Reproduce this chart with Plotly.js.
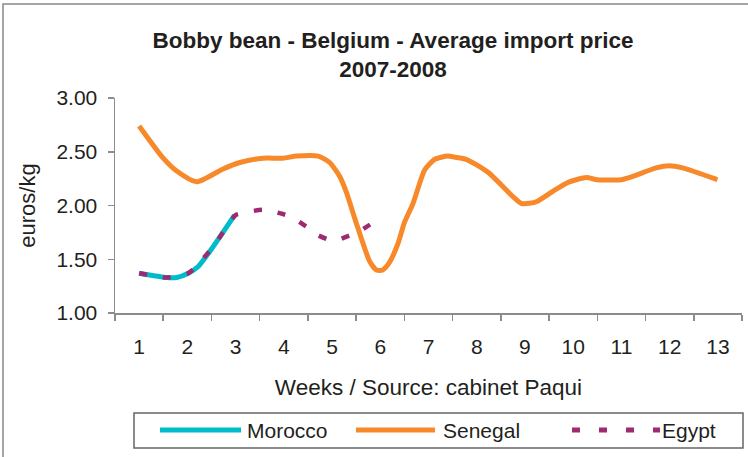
<!DOCTYPE html>
<html>
<head>
<meta charset="utf-8">
<script src="https://cdn.plot.ly/plotly-3.0.1.min.js"></script>
<style>
  html, body { margin: 0; padding: 0; background: #ffffff; }
  #chart { width: 748px; height: 457px; }
</style>
</head>
<body>
<div id="chart"></div>
<script>
// ---- Data ----
const weekLabels = ["1","2","3","4","5","6","7","8","9","10","11","12","13"];
const weekTicks = [1,2,3,4,5,6,7,8,9,10,11,12,13];

const moroccoWeeks  = [1.00, 1.57, 1.78, 2.02, 2.22, 2.54, 2.98];
const moroccoPrices = [1.37, 1.33, 1.33, 1.37, 1.43, 1.62, 1.91];

const senegalWeeks  = [1.00, 1.50, 1.78, 2.19, 2.74, 3.09, 3.57, 3.98, 4.26, 4.71, 4.95, 5.16, 5.30, 5.50,
                       5.78, 5.92, 6.05, 6.19, 6.37, 6.50, 6.68, 6.92, 7.13, 7.40, 7.54, 7.78, 7.99, 8.26,
                       8.78, 8.92, 9.09, 9.26, 9.64, 9.92, 10.27, 10.50, 10.99, 11.23, 11.72, 11.99, 12.27, 12.99];
const senegalPrices = [2.74, 2.44, 2.32, 2.22, 2.34, 2.40, 2.44, 2.44, 2.46, 2.46, 2.40, 2.27, 2.12, 1.84,
                       1.48, 1.40, 1.40, 1.47, 1.65, 1.84, 2.02, 2.33, 2.43, 2.46, 2.45, 2.43, 2.38, 2.30,
                       2.07, 2.02, 2.02, 2.04, 2.15, 2.22, 2.26, 2.24, 2.24, 2.27, 2.35, 2.37, 2.35, 2.24];

const egyptWeeks  = [1.00, 1.57, 2.02, 2.54, 3.00, 3.16, 3.57, 4.12, 4.54, 4.68, 5.02, 5.12, 5.57, 5.97];
const egyptPrices = [1.37, 1.33, 1.37, 1.62, 1.91, 1.93, 1.96, 1.90, 1.78, 1.73, 1.67, 1.68, 1.76, 1.88];

const seriesNames = ["Morocco", "Senegal", "Egypt"];
const seriesColors = ["#00BCCB", "#F7892A", "#9E2A72"];

// ---- Geometry helpers (pixel -> paper) ----
const W = 748, H = 457, ML = 115, MR = 6, MT = 98, MB = 144;
const PW = W - ML - MR, PH = H - MT - MB;
const px2x = x => (x - ML) / PW;
const px2y = y => (H - MB - y) / PH;

const textColor = "#231F20";
const axisColor = "#8C8C8C";
const font = "Liberation Sans, Arial, sans-serif";

const traces = [
  { x: moroccoWeeks, y: moroccoPrices, name: seriesNames[0], type: "scatter", mode: "lines",
    line: { color: seriesColors[0], width: 5, shape: "spline", smoothing: 0.6 } },
  { x: senegalWeeks, y: senegalPrices, name: seriesNames[1], type: "scatter", mode: "lines",
    line: { color: seriesColors[1], width: 5, shape: "spline", smoothing: 0.6 } },
  { x: egyptWeeks, y: egyptPrices, name: seriesNames[2], type: "scatter", mode: "lines",
    line: { color: seriesColors[2], width: 4.5, dash: "8px,16px", shape: "spline", smoothing: 0.6 } }
];

const boundaries = [];
for (let i = 0; i <= weekTicks.length; i++) boundaries.push(weekTicks[0] - 0.5 + i);

// custom legend (long sample lines like the original)
const legY = 430;
const shapes = [
  { type: "rect", xref: "paper", yref: "paper", x0: px2x(3), x1: px2x(770), y0: px2y(480), y1: px2y(4),
    line: { color: "#888888", width: 1.5 }, fillcolor: "rgba(0,0,0,0)", layer: "below" },
  { type: "rect", xref: "paper", yref: "paper", x0: px2x(134), x1: px2x(743), y0: px2y(448), y1: px2y(413),
    line: { color: "#666666", width: 1.5 }, fillcolor: "rgba(0,0,0,0)" },
  { type: "line", xref: "paper", yref: "paper", x0: px2x(160), x1: px2x(241), y0: px2y(legY), y1: px2y(legY),
    line: { color: seriesColors[0], width: 5 } },
  { type: "line", xref: "paper", yref: "paper", x0: px2x(356), x1: px2x(435), y0: px2y(legY), y1: px2y(legY),
    line: { color: seriesColors[1], width: 5 } },
  { type: "line", xref: "paper", yref: "paper", x0: px2x(572), x1: px2x(660), y0: px2y(legY), y1: px2y(legY),
    line: { color: seriesColors[2], width: 5, dash: "8px,19px" } }
];

const annotations = [
  { text: seriesNames[0], xref: "paper", yref: "paper", x: px2x(245), y: px2y(legY), xanchor: "left", yanchor: "middle",
    showarrow: false, font: { family: font, size: 21, color: textColor } },
  { text: seriesNames[1], xref: "paper", yref: "paper", x: px2x(441), y: px2y(legY), xanchor: "left", yanchor: "middle",
    showarrow: false, font: { family: font, size: 21, color: textColor } },
  { text: seriesNames[2], xref: "paper", yref: "paper", x: px2x(660), y: px2y(legY), xanchor: "left", yanchor: "middle",
    showarrow: false, font: { family: font, size: 21, color: textColor } }
];

const layout = {
  width: W, height: H,
  margin: { l: ML, r: MR, t: MT, b: MB, pad: 0 },
  paper_bgcolor: "#ffffff", plot_bgcolor: "#ffffff",
  showlegend: false,
  font: { family: font, color: textColor },
  title: {
    text: "<b>Bobby bean - Belgium - Average import price<br>2007-2008</b>",
    font: { family: font, size: 22.5, color: textColor },
    xref: "container", yref: "container", x: 393 / W, xanchor: "center",
    y: 1 - 48 / H, yanchor: "middle"
  },
  xaxis: {
    range: [0.5, 13.5], fixedrange: true,
    tickmode: "array", tickvals: weekTicks, ticktext: weekLabels,
    ticks: "outside", ticklen: 14, tickcolor: "rgba(0,0,0,0)",
    tickfont: { family: font, size: 21, color: textColor },
    showgrid: false, zeroline: false,
    showline: true, linecolor: axisColor, linewidth: 1.5,
    minor: { tickmode: "array", tickvals: boundaries, ticks: "outside", ticklen: 6,
             tickcolor: axisColor, tickwidth: 1.5, showgrid: false },
    title: { text: "Weeks / Source: cabinet Paqui", font: { family: font, size: 22.5, color: textColor }, standoff: 22 }
  },
  yaxis: {
    range: [1, 3], dtick: 0.5, tick0: 1, tickformat: ".2f", fixedrange: true,
    ticks: "outside", ticklen: 6, tickcolor: axisColor, tickwidth: 1.5,
    ticklabelstandoff: 6,
    tickfont: { family: font, size: 21, color: textColor },
    showgrid: false, zeroline: false,
    showline: true, linecolor: axisColor, linewidth: 1.5,
    title: { text: "euros/kg", font: { family: font, size: 22, color: textColor }, standoff: 14 }
  },
  shapes: shapes,
  annotations: annotations
};

Plotly.newPlot("chart", traces, layout, { displayModeBar: false, staticPlot: true });
</script>
</body>
</html>
